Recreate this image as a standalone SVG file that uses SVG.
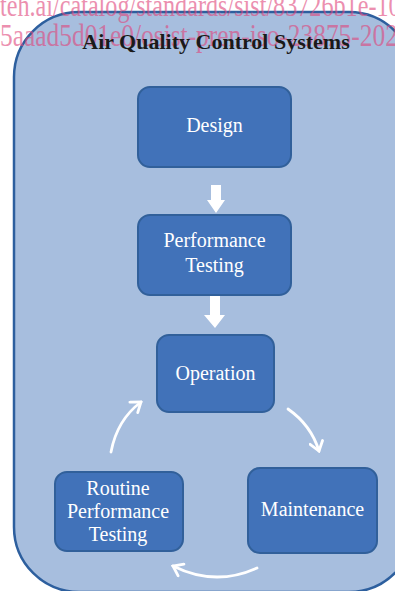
<svg xmlns="http://www.w3.org/2000/svg" width="395" height="591" viewBox="0 0 395 591">
<style>
.box{fill:#4172b9;stroke:#31609a;stroke-width:2}
.lbl{font-family:"Liberation Serif","Times New Roman",serif;font-size:20px;fill:#ffffff;text-anchor:middle}
.wm{font-family:"Liberation Serif","Times New Roman",serif;font-size:31px;fill:#e0457b;opacity:0.6}
.curve{fill:none;stroke:#ffffff;stroke-width:2.8;stroke-linecap:round}
.block{fill:#ffffff}
</style>
<defs>
<marker id="chev" markerUnits="userSpaceOnUse" viewBox="-12 -8 14 16" refX="0" refY="0" markerWidth="14" markerHeight="16" orient="auto">
<path d="M-9,-6.5 L0,0 L-9,6.5" fill="none" stroke="#ffffff" stroke-width="2.8" stroke-linecap="round" stroke-linejoin="miter"/>
</marker>
</defs>
<rect width="395" height="591" fill="#ffffff"/>
<g id="container">
<rect x="14" y="12" width="400" height="580" rx="65" ry="65" fill="#a7bede" stroke="#2d5f9e" stroke-width="2.5"/>
</g>
<g id="watermark">
<text class="wm" transform="translate(0,16) scale(0.78,1)" x="0" y="0">teh.ai/catalog/standards/sist/83726b1e-10</text>
<text class="wm" transform="translate(0,46) scale(0.82,1)" x="0" y="0">5aaad5d01e0/osist-pren-iso-23875-2022</text>
</g>
<g id="title">
<text x="216" y="49" font-family="Liberation Serif,Times New Roman,serif" font-size="22" font-weight="bold" fill="#1a1a1a" text-anchor="middle">Air Quality Control Systems</text>
</g>
<g id="connectors">
<path class="block" d="M211,185 H221 V200 H225 L216,213 L207,200 H211 Z"/>
<path class="block" d="M210,296 H220 V315 H225 L215,328 L204,315 H210 Z"/>
<path class="curve" d="M111,452 Q117,420 141,402" marker-end="url(#chev)"/>
<path class="curve" d="M288,409 Q311,425 319,451" marker-end="url(#chev)"/>
<path class="curve" d="M257,568 Q215,587 173,566" marker-end="url(#chev)"/>
</g>
<g id="node-design">
<rect class="box" x="138" y="87" width="153" height="80" rx="12"/>
<text class="lbl" x="214.5" y="132">Design</text>
</g>
<g id="node-performance-testing">
<rect class="box" x="138" y="215" width="153" height="80" rx="12"/>
<text class="lbl" x="214.5" y="247">Performance</text>
<text class="lbl" x="214.5" y="272">Testing</text>
</g>
<g id="node-operation">
<rect class="box" x="157" y="335" width="117" height="77" rx="12"/>
<text class="lbl" x="215.5" y="380">Operation</text>
</g>
<g id="node-maintenance">
<rect class="box" x="248" y="468" width="129" height="85" rx="12"/>
<text class="lbl" x="312.5" y="516">Maintenance</text>
</g>
<g id="node-routine-performance-testing">
<rect class="box" x="55" y="472" width="128" height="79" rx="12"/>
<text class="lbl" x="118" y="495">Routine</text>
<text class="lbl" x="118" y="518">Performance</text>
<text class="lbl" x="118" y="541">Testing</text>
</g>
</svg>
